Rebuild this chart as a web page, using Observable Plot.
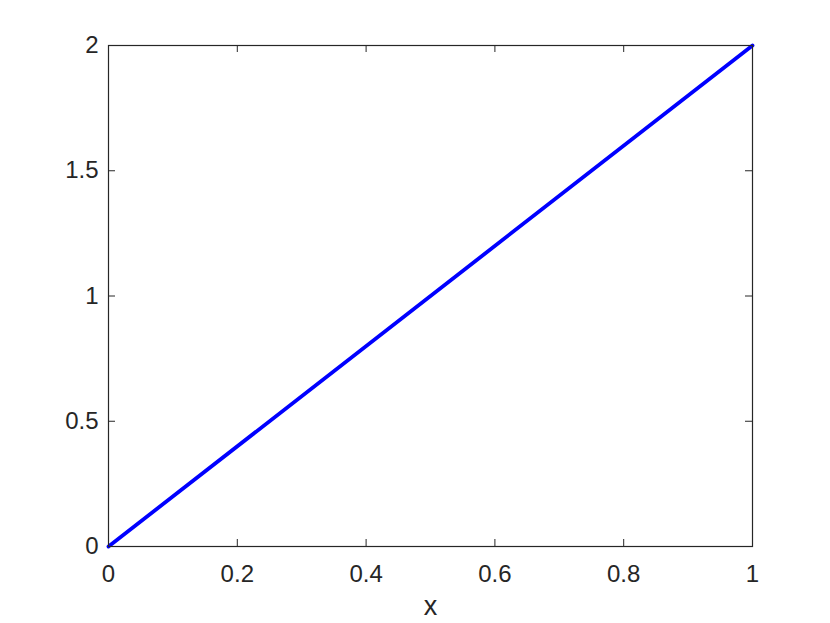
<!DOCTYPE html>
<html>
<head>
<meta charset="utf-8">
<script src="https://cdn.jsdelivr.net/npm/d3@7"></script>
<script src="https://cdn.jsdelivr.net/npm/@observablehq/plot@0.6"></script>
<style>
  html, body { margin: 0; padding: 0; background: #fff; }
  #chart svg { display: block; }
</style>
</head>
<body>
<div id="chart"></div>
<script>
const xValues = [0, 1];
const yValues = [0, 2];
const xTicks = [0, 0.2, 0.4, 0.6, 0.8, 1];
const yTicks = [0, 0.5, 1, 1.5, 2];
const xLabel = "x";

const data = xValues.map((x, i) => ({x, y: yValues[i]}));
const ink = "#262626";
const W = 830, H = 623;
const mL = 108, mR = 78, mT = 45, mB = 77;
const fw = W - mL - mR, fh = H - mT - mB;
const tl = 7;
const fmt = d => String(d);

const chart = Plot.plot({
  width: W,
  height: H,
  marginLeft: mL,
  marginRight: mR,
  marginTop: mT,
  marginBottom: mB,
  style: {fontFamily: "'Liberation Sans', Arial, Helvetica, sans-serif", fontSize: "24px", color: ink, background: "#fff"},
  x: {domain: [0, 1]},
  y: {domain: [0, 2]},
  marks: [
    Plot.ruleX(xTicks, {x: d => d, insetTop: fh - tl, stroke: ink, strokeWidth: 1}),
    Plot.ruleX(xTicks, {x: d => d, insetBottom: fh - tl, stroke: ink, strokeWidth: 1}),
    Plot.ruleY(yTicks, {y: d => d, insetRight: fw - tl, stroke: ink, strokeWidth: 1}),
    Plot.ruleY(yTicks, {y: d => d, insetLeft: fw - tl, stroke: ink, strokeWidth: 1}),
    Plot.line(data, {x: "x", y: "y", stroke: "#0000ff", strokeWidth: 3.8}),
    Plot.frame({stroke: ink, strokeWidth: 1.2}),
    Plot.axisX(xTicks, {tickSize: 0, tickPadding: 18, label: null, tickFormat: fmt, fill: ink, fontSize: 24}),
    Plot.axisY(yTicks, {tickSize: 0, tickPadding: 10, label: null, tickFormat: fmt, fill: ink, fontSize: 24}),
    Plot.text([xLabel], {frameAnchor: "bottom", dy: 68, fill: ink, fontSize: 27})
  ]
});
document.getElementById("chart").appendChild(chart);
</script>
</body>
</html>
